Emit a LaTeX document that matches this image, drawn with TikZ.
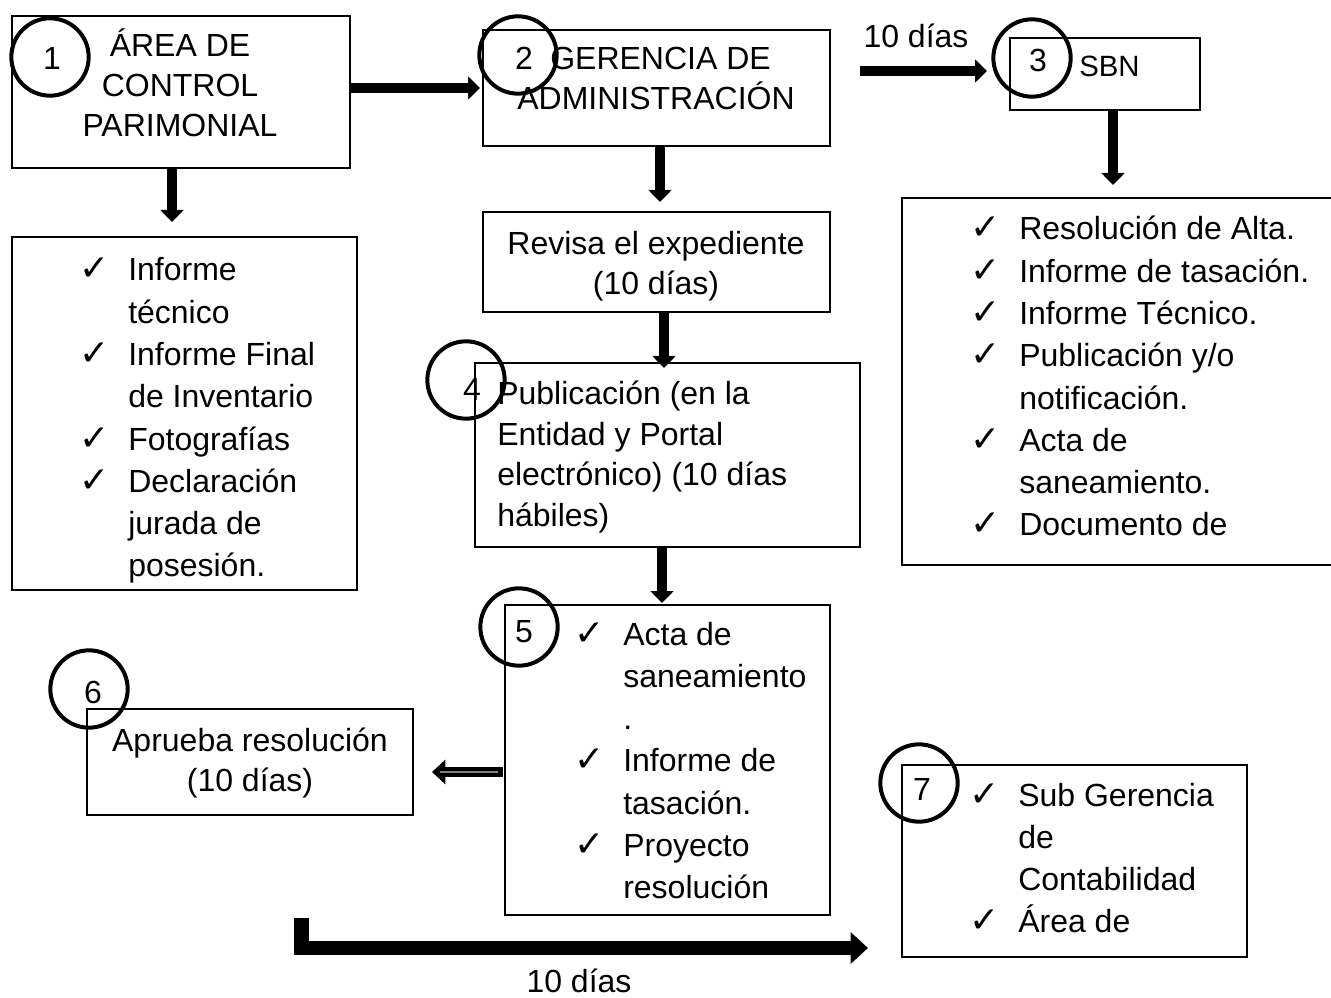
\documentclass[tikz,border=0pt]{standalone}
\usepackage{fontspec}
\setmainfont{Liberation Sans}
\newfontfamily\dv{DejaVu Sans}
\usetikzlibrary{arrows.meta,fit}
\newcommand{\ckm}{\makebox[15pt]{\dv\fontsize{27}{27}\selectfont ✓}}
\begin{document}
\begin{tikzpicture}[x=0.75pt,y=-0.75pt,
  box/.style={draw, line width=1.5pt, inner sep=0pt},
  circ/.style={draw, circle, line width=3pt, minimum size=58pt, inner sep=0pt},
  digit/.style={inner sep=0pt, anchor=base, font=\fontsize{24}{24}\selectfont},
  txt/.style={inner sep=0pt, anchor=base, font=\fontsize{24}{30}\selectfont},
  lst/.style={inner sep=0pt, anchor=base west, font=\fontsize{24}{31.7}\selectfont},
  fat/.style={line width=7.5pt, -{Triangle[width=17pt,length=9pt]}},
  huge/.style={line width=11pt, line join=miter, -{Triangle[width=23pt,length=13pt]}}
]
\useasboundingbox (0,0) rectangle (1331,998);

% boxes
\node[box, fit={(12,16) (350,168)}] (b1) {};
\node[box, fit={(483,30) (830,146)}] (b2) {};
\node[box, fit={(1010,38) (1200,110)}] (b3) {};
\node[box, fit={(12,237) (357,590)}] (b1l) {};
\node[box, fit={(483,212) (830,312)}] (brev) {};
\node[box, fit={(902,198) (1345,565)}] (b3l) {};
\node[box, fit={(475,363) (860,547)}] (b4) {};
\node[box, fit={(505,605) (830,915)}] (b5) {};
\node[box, fit={(87,709) (413,815)}] (b6) {};
\node[box, fit={(902,765) (1247,957)}] (b7) {};

% circles
\node[circ] (c1) at (50,57) {};
\node[circ] (c2) at (518,55) {};
\node[circ] (c3) at (1032,58) {};
\node[circ] (c4) at (466,380) {};
\node[circ] (c5) at (519,627) {};
\node[circ] (c6) at (89,689) {};
\node[circ] (c7) at (919,783) {};

% digits
\node[digit] (d1) at (52,70) {1};
\node[digit] (d2) at (524,70) {2};
\node[digit] (d3) at (1038,72) {3};
\node[digit] (d4) at (472,401) {4};
\node[digit] (d5) at (524,642) {5};
\node[digit] (d6) at (93,703) {6};
\node[digit] (d7) at (922,800) {7};

% texts
\node[txt] (t1) at (180,57) {\begin{tabular}[t]{@{}c@{}}ÁREA DE\\CONTROL\\PARIMONIAL\end{tabular}};
\node[txt, anchor=base west] (t2a) at (550,70) {GERENCIA DE};
\node[txt] (t2b) at (656,110) {ADMINISTRACIÓN};
\node[txt, anchor=base west, font=\fontsize{22}{22}\selectfont] (t3) at (1079,77) {SBN};
\node[txt] (trev) at (656,255) {\begin{tabular}[t]{@{}c@{}}Revisa el expediente\\(10 días)\end{tabular}};
\node[txt, anchor=base west, font=\fontsize{24}{30.75}\selectfont] (t4) at (497,404) {\begin{tabular}[t]{@{}l@{}}Publicación (en la\\Entidad y Portal\\electrónico) (10 días\\hábiles)\end{tabular}};
\node[txt] (t6) at (250,751) {\begin{tabular}[t]{@{}c@{}}Aprueba resolución\\(10 días)\end{tabular}};
\node[txt] (ttop) at (916,48) {10 días};
\node[txt] (tbot) at (579,992) {10 días};

% lists
\node[lst] (l1) at (84,281) {\begin{tabular}[t]{@{}l@{\hspace{18pt}}l@{}}
\ckm & Informe\\ & técnico\\ \ckm & Informe Final\\ & de Inventario\\
\ckm & Fotografías\\ \ckm & Declaración\\ & jurada de\\ & posesión.\end{tabular}};
\node[lst] (l3) at (975,240) {\begin{tabular}[t]{@{}l@{\hspace{18pt}}l@{}}
\ckm & Resolución de Alta.\\ \ckm & Informe de tasación.\\ \ckm & Informe Técnico.\\
\ckm & Publicación y/o\\ & notificación.\\ \ckm & Acta de\\ & saneamiento.\\
\ckm & Documento de\end{tabular}};
\node[lst] (l5) at (579,645) {\begin{tabular}[t]{@{}l@{\hspace{18pt}}l@{}}
\ckm & Acta de\\ & saneamiento\\ & .\\ \ckm & Informe de\\ & tasación.\\
\ckm & Proyecto\\ & resolución\end{tabular}};
\node[lst] (l7) at (974,806) {\begin{tabular}[t]{@{}l@{\hspace{18pt}}l@{}}
\ckm & Sub Gerencia\\ & de\\ & Contabilidad\\ \ckm & Área de\end{tabular}};

% arrow coordinates
\coordinate (a12e) at (480,88);
\coordinate (a23s) at (860,71);
\coordinate (a23e) at (987,71);
\coordinate (a3s) at (1113,111);
\coordinate (a3e) at (1113,185);
\coordinate (a1s) at (172,169);
\coordinate (a1e) at (172,222);
\coordinate (a2s) at (660,147);
\coordinate (a2e) at (660,202);
\coordinate (ars) at (664,313);
\coordinate (are) at (664,368);
\coordinate (a4s) at (662,548);
\coordinate (a4e) at (662,603);
\coordinate (a56s) at (503,772);
\coordinate (a56e) at (432,772);
\coordinate (g56s) at (498,772);
\coordinate (g56e) at (440,772);
\coordinate (ls) at (301.5,918);
\coordinate (lc) at (301.5,948);
\coordinate (le) at (868,948);

\draw[fat] (b1.east |- a12e) -- (a12e);
\draw[fat] (a23s) -- (a23e);
\draw[fat] (a3s) -- (a3e);
\draw[fat] (a1s) -- (a1e);
\draw[fat] (a2s) -- (a2e);
\draw[fat] (ars) -- (are);
\draw[fat] (a4s) -- (a4e);
\draw[line width=7.5pt, -{Triangle[width=18pt,length=10pt]}] (a56s) -- (a56e);
\draw[line width=1.2pt, gray] (g56s) -- (g56e);
\draw[huge] (ls) -- (lc) -- (le);
\end{tikzpicture}
\end{document}
